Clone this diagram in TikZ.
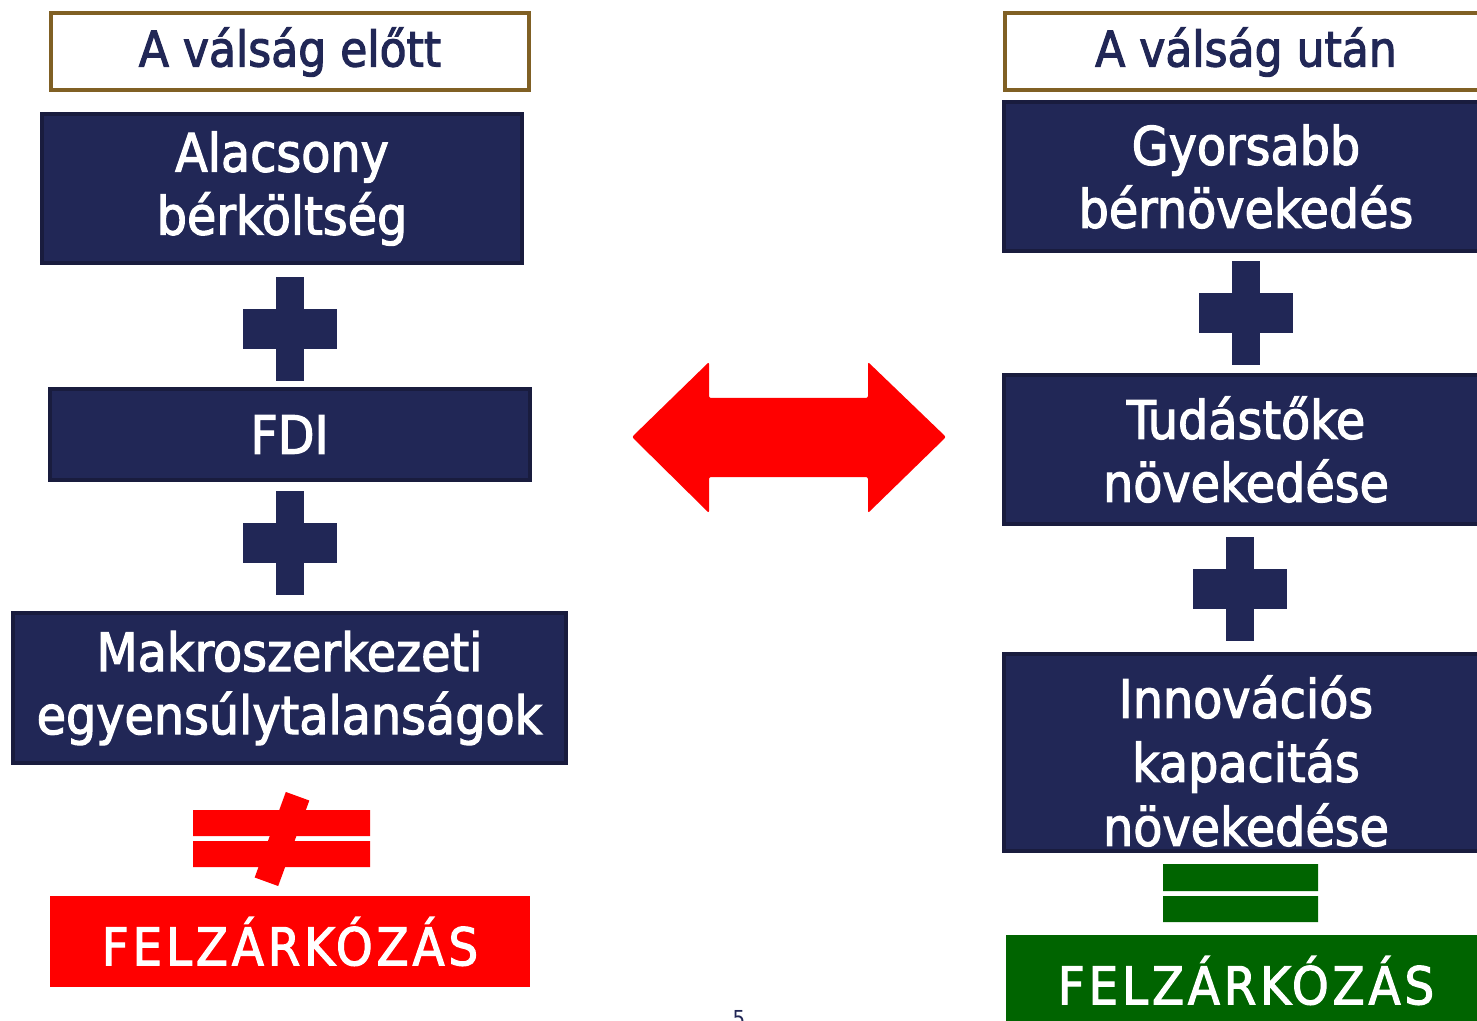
\documentclass[tikz,border=0pt]{standalone}
\usepackage{fontspec}
\setmainfont{DejaVu Sans Condensed}[BoldFont={DejaVu Sans Condensed},BoldFeatures={FakeBold=2.2}]
\definecolor{navy}{RGB}{33,39,86}
\definecolor{navyedge}{RGB}{25,28,62}
\definecolor{titleedge}{RGB}{128,96,36}
\definecolor{catchgreen}{RGB}{0,100,0}
\begin{document}
\begin{tikzpicture}[x=0.5pt,y=-0.5pt,
  title/.style={draw=titleedge, line width=2pt, fill=white, text=navy,
    minimum width=239pt, minimum height=38.5pt, inner sep=0pt,
    font=\bfseries\fontsize{24.5}{30}\selectfont},
  factor/.style={draw=navyedge, line width=2pt, fill=navy, text=white,
    align=center, minimum width=240pt, inner sep=0pt,
    font=\bfseries\fontsize{26.5}{31.5}\selectfont},
  result/.style={text=white, minimum width=240pt, minimum height=45.5pt,
    inner sep=0pt, font=\bfseries\fontsize{26}{30}\selectfont\addfontfeature{LetterSpace=7.5}}]
\useasboundingbox (0,0) rectangle (1477,1021);
\clip (0,0) rectangle (1477,1021);
% before the crisis
\node[title] (before) at (290,52) {A válság előtt};
\node[factor, minimum height=74.5pt] (wage) at (282,188.5) {Alacsony\\bérköltség};
\node[factor, minimum height=45.5pt] (fdi) at (289.5,434.5) {FDI};
\node[factor, minimum width=276.5pt, minimum height=75pt] (macro) at (289.5,688) {Makroszerkezeti\\egyensúlytalanságok};
\node[result, fill=red] (failL) at (290,941.5) {FELZÁRKÓZÁS};
% after the crisis
\node[title, minimum width=241pt] (after) at (1246,52) {A válság után};
\node[factor, minimum width=242pt, minimum height=74.5pt] (growth) at (1246,176.5) {Gyorsabb\\bérnövekedés};
\node[factor, minimum width=242pt, minimum height=74.5pt] (know) at (1246,449.5) {Tudástőke\\növekedése};
\node[factor, minimum width=242pt, minimum height=98.5pt] (innov) at (1246,752.5) {};
\node[text=white, align=center, inner sep=0pt, font=\bfseries\fontsize{26.5}{32}\selectfont] (innovtext) at (1246,761) {Innovációs\\kapacitás\\növekedése};
\node[result, fill=catchgreen] (catchR) at (1246,980.5) {FELZÁRKÓZÁS};
% plus signs
\foreach \x/\y in {290/329, 290/543, 1246/313, 1240/589}{
  \fill[navy] (\x-14,\y-52) rectangle (\x+14,\y+52);
  \fill[navy] (\x-47,\y-20) rectangle (\x+47,\y+20);
}
% not equal
\fill[red] (193,810) rectangle (370,836) (193,841) rectangle (370,867);
\node[fill=red, rotate=-20, minimum width=12.5pt, minimum height=45.5pt, inner sep=0pt] (slash) at (282,839) {};
% equal
\fill[catchgreen] (1163,864) rectangle (1318,891) (1163,896) rectangle (1318,922);
% double arrow
\fill[red, rounded corners=1pt] (632,437) -- (709,362) -- (709,398) -- (868,398) -- (868,362)
  -- (946,437) -- (868,513) -- (868,477) -- (709,477) -- (709,513) -- cycle;
\node[text=navy, anchor=north, inner sep=0pt, font=\fontsize{11}{13}\selectfont] (page) at (739,1010) {5};
\end{tikzpicture}
\end{document}
